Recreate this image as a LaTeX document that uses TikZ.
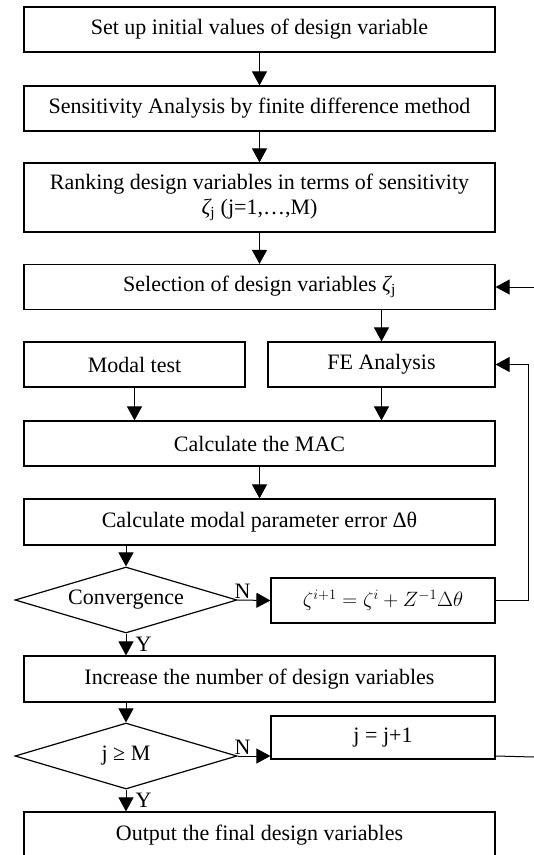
\documentclass[tikz,border=0pt]{standalone}
\usepackage{fontspec}
\setmainfont{Liberation Serif}
\usetikzlibrary{arrows.meta,shapes.geometric}
\tikzset{
  box/.style={draw, line width=1.2pt, rectangle, inner sep=0pt, align=center,
    font=\fontsize{22}{25}\selectfont},
  fullbox/.style={box, minimum width=471pt, minimum height=45pt},
  halfbox/.style={box, minimum height=45pt},
  decision/.style={draw, line width=1.2pt, diamond, aspect=3.36, inner sep=0pt,
    minimum width=222pt, minimum height=66pt, font=\fontsize{22}{25}\selectfont},
  conn/.style={line width=1pt, -{Triangle[length=14pt,width=15pt]}},
  plain/.style={line width=1pt},
  lbl/.style={font=\fontsize{22}{25}\selectfont, inner sep=1pt}
}
\begin{document}
\begin{tikzpicture}[x=1pt,y=-1pt]
\useasboundingbox (0,0) rectangle (534,855);
\clip (0,0) rectangle (534,855);
\node[fullbox] (b1) at (259.5,29.5) {Set up initial values of design variable};
\node[fullbox] (b2) at (259.5,108.5) {Sensitivity Analysis by finite difference method};
\node[fullbox, minimum height=69pt] (b3) at (259.5,197.5) {Ranking design variables in terms of sensitivity\\{\itshape ζ}\textsubscript{j} (j=1,…,M)};
\node[fullbox] (sel) at (259.5,287) {Selection of design variables {\itshape ζ}\textsubscript{j}};
\node[halfbox, minimum width=221pt] (modal) at (134.5,364.5) {Modal test};
\node[halfbox, minimum width=227pt] (fe) at (381.5,364.5) {FE Analysis};
\node[fullbox] (mac) at (259.5,443.5) {Calculate the MAC};
\node[fullbox, minimum height=46pt] (err) at (259.5,522) {Calculate modal parameter error Δθ};
\node[decision] (d1) at (126,600) {Convergence};
\node[halfbox, minimum width=224pt] (upd) at (383,600.5) {$\zeta^{i+1}=\zeta^{i}+Z^{-1}\Delta\theta$};
\node[fullbox, minimum height=46pt] (inc) at (259.5,679) {Increase the number of design variables};
\node[decision] (d2) at (126,756) {j ≥ M};
\node[halfbox, minimum width=224pt, minimum height=43pt] (jb) at (383,737.5) {j = j+1};
\node[fullbox, minimum height=46pt] (out) at (259.5,835) {Output the final design variables};
\coordinate (r1) at (534,287);
\coordinate (r2) at (534,757);
\coordinate (fb) at (528,600.5);

\draw[conn] (b1) -- (b2);
\draw[conn] (b2) -- (b3);
\draw[conn] (b3) -- (sel);
\draw[conn] (r1) -- (sel.east);
\draw[conn] (fe.north |- sel.south) -- (fe.north);
\draw[conn] (modal.south) -- (modal.south |- mac.north);
\draw[conn] (fe.south) -- (fe.south |- mac.north);
\draw[conn] (mac) -- (err);
\draw[conn] (d1.north |- err.south) -- (d1.north);
\draw[conn] (d1.east) -- (upd.west) node[lbl, pos=0.15, above] {N};
\draw[conn] (upd.east) -- (fb) |- (fe.east);
\draw[conn] (d1.south) -- (d1.south |- inc.north) node[lbl, pos=0.5, right, xshift=8pt] {Y};
\draw[conn] (d2.north |- inc.south) -- (d2.north);
\draw[conn] (d2.east) -- (d2.east -| jb.west) node[lbl, pos=0.15, above] {N};
\draw[plain] (d2.east -| jb.east) -- (r2);
\draw[conn] (d2.south) -- (d2.south |- out.north) node[lbl, pos=0.5, right, xshift=8pt] {Y};
\end{tikzpicture}
\end{document}
